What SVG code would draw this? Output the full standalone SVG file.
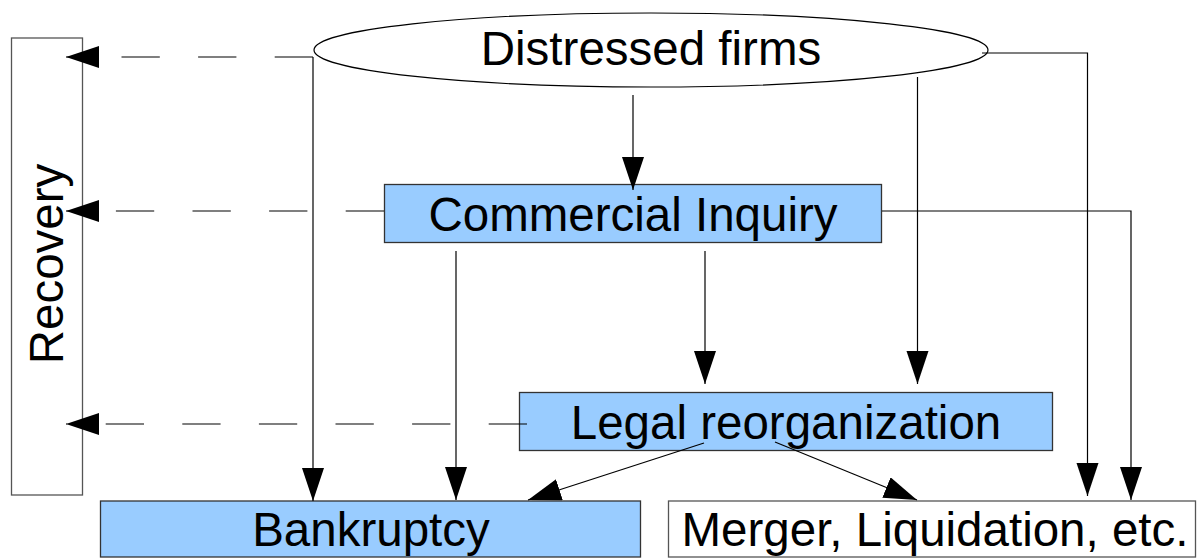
<svg xmlns="http://www.w3.org/2000/svg" width="1198" height="559" viewBox="0 0 1198 559">
<style>
.box{fill:#99ccff;stroke:#333;stroke-width:1.3}
.wbox{fill:#fff;stroke:#555;stroke-width:1.3}
.lbl{font-family:"Liberation Sans",Arial,sans-serif;font-size:47.5px;fill:#000;text-anchor:middle}
.ln{fill:none;stroke:#000;stroke-width:1.2}
.dash{fill:none;stroke:#000;stroke-width:1.2;stroke-dasharray:38.3 38.3}
</style>
<defs>
<marker id="ah" markerUnits="userSpaceOnUse" markerWidth="34" markerHeight="23" refX="33" refY="11" orient="auto" viewBox="0 0 34 23">
<path d="M0,0 L33,11 L0,22 z" fill="#000"/>
</marker>
</defs>
<g id="recovery">
<rect class="wbox" x="11.5" y="38" width="71" height="457"/>
<text class="lbl" transform="translate(63,264) rotate(-90)">Recovery</text>
</g>
<g id="distressed">
<ellipse cx="651" cy="50" rx="337" ry="37" fill="#fff" stroke="#000" stroke-width="1.2"/>
<text class="lbl" x="651" y="65">Distressed firms</text>
</g>
<g id="commercial">
<rect class="box" x="384.5" y="184.5" width="497" height="58"/>
<text class="lbl" x="633" y="231">Commercial Inquiry</text>
</g>
<g id="legal">
<rect class="box" x="519.5" y="392.5" width="533" height="58"/>
<text class="lbl" x="786" y="439">Legal reorganization</text>
</g>
<g id="bankruptcy">
<rect class="box" x="100.5" y="501" width="540" height="56"/>
<text class="lbl" x="371" y="546">Bankruptcy</text>
</g>
<g id="merger">
<rect class="wbox" x="668.5" y="501" width="527" height="56"/>
<text class="lbl" x="935" y="546">Merger, Liquidation, etc.</text>
</g>
<g id="connectors">
<path class="dash" d="M313,57 L66,57" marker-end="url(#ah)"/>
<path class="dash" d="M384,211 L66,211" marker-end="url(#ah)"/>
<path class="dash" d="M527,424 L66,424" marker-end="url(#ah)"/>
<path class="ln" d="M313,57 L313,501" marker-end="url(#ah)"/>
<path class="ln" d="M633,95 L633,190" marker-end="url(#ah)"/>
<path class="ln" d="M982,53 L1087.5,53 L1087.5,496" marker-end="url(#ah)"/>
<path class="ln" d="M917.5,77 L917.5,384" marker-end="url(#ah)"/>
<path class="ln" d="M882,211 L1131,211 L1131,500" marker-end="url(#ah)"/>
<path class="ln" d="M456,251 L456,500" marker-end="url(#ah)"/>
<path class="ln" d="M705,251 L705,384" marker-end="url(#ah)"/>
<path class="ln" d="M704,443 L528,500" marker-end="url(#ah)"/>
<path class="ln" d="M775,442 L917,500" marker-end="url(#ah)"/>
</g>
</svg>
